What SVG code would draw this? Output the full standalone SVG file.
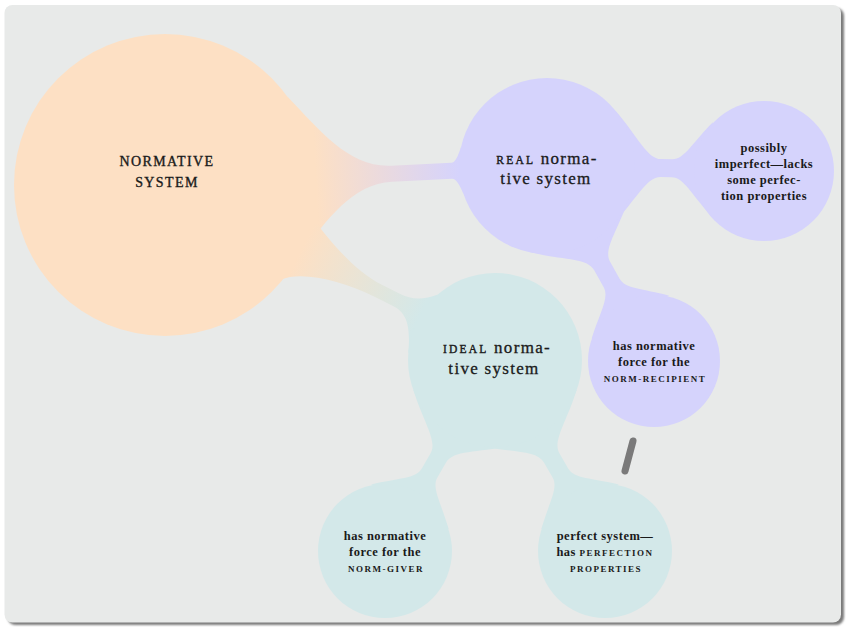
<svg xmlns="http://www.w3.org/2000/svg" width="846" height="628" viewBox="0 0 846 628">
<defs>
<style>
.peach{fill:#fde0c4}
.lav{fill:#d5d3fc}
.teal{fill:#d3e8e9}
text{font-family:"Liberation Serif","Times New Roman",serif;fill:#1a1a1a;text-anchor:middle}
.t0{font-size:14px;letter-spacing:1.4px;stroke:#1a1a1a;stroke-width:0.35px}
.t1{font-size:17px;letter-spacing:1.3px;stroke:#1a1a1a;stroke-width:0.3px}
.sc1{font-size:11.5px;letter-spacing:2.2px;stroke-width:0.4px}
.t2{font-size:12.5px;font-weight:bold;letter-spacing:0.5px}
.sc2{font-size:9px;letter-spacing:1.5px}
</style>
<filter id="blur" x="-5%" y="-5%" width="110%" height="110%"><feGaussianBlur stdDeviation="1.2"/></filter>
<linearGradient id="gA" gradientUnits="userSpaceOnUse" x1="151" y1="0" x2="294" y2="0">
<stop offset="0" stop-color="#fde0c4"/><stop offset="1" stop-color="#d5d3fc"/>
</linearGradient>
<linearGradient id="gB" gradientUnits="userSpaceOnUse" x1="151" y1="0" x2="286" y2="0">
<stop offset="0" stop-color="#fde0c4"/><stop offset="1" stop-color="#d3e8e9"/>
</linearGradient>
<path id="bar2r" d="M67.4,-56.6 C90.6,-31.1 99.7,-9 114,-9 L133.6,-9 C145.7,-9 153.4,-24.3 172.6,-44.2 L172.6,44.2 C153.4,24.3 145.7,9 133.6,9 L114,9 C99.7,9 90.6,31.1 67.4,56.6 Z"/>
<path id="bar2i" d="M66.6,-55.9 C89.6,-30.7 98.7,-9 113,-9 L130.5,-9 C142.6,-9 150.3,-24.6 169.7,-44.8 L169.7,44.8 C150.3,24.6 142.6,9 130.5,9 L113,9 C98.7,9 89.6,30.7 66.6,55.9 Z"/>
</defs>

<rect x="7.5" y="8" width="836.5" height="617" rx="8" fill="#7a7a7a" filter="url(#blur)"/>
<rect x="4.5" y="5" width="836.5" height="617.5" rx="8" fill="#e8eae9"/>

<g id="connectors">
<path transform="translate(165,185) rotate(-2.85)" fill="url(#gA)" d="M126.6,-82.2 C158.6,-45.2 185.2,-8 227,-8 L287,-8 C290.9,-8 293.7,-13.3 297.9,-24.3 L297.9,24.3 C293.7,13.3 290.9,8 287,8 L227,8 C185.2,8 158.6,45.2 126.6,82.2 Z"/>
<path transform="translate(165,185) rotate(26.5)" fill="url(#gB)" d="M145.5,-37 C163,-28 205,-7.5 238,-7.5 L258,-7.5 C272,-7.5 282,-12 293,-23.8 L293,42.6 C282,14 272,6.5 258,6.5 L238,6.5 C200,6.5 160,16 146,33 Z"/>
<path transform="translate(547,166) rotate(1.06)" class="lav" d="M67.4,-56.6 C90.6,-31.1 99.7,-9 114,-9 L125,-9 C137.1,-9 144.8,-25.7 165,-46.8 L165,46.8 C144.8,25.7 137.1,9 125,9 L114,9 C99.7,9 90.6,31.1 67.4,56.6 Z"/>
<use href="#bar2r" transform="translate(547,166) rotate(61.1)" class="lav"/>
<use href="#bar2i" transform="translate(495,360) rotate(120.07)" class="teal"/>
<use href="#bar2i" transform="translate(495,360) rotate(59.93)" class="teal"/>
</g>

<g id="normative-system">
<circle cx="165" cy="185" r="151" class="peach"/>
<text class="t0" x="167" y="166">NORMATIVE</text>
<text class="t0" x="167" y="187">SYSTEM</text>
</g>

<g id="real-normative-system">
<circle cx="547" cy="166" r="88" class="lav"/>
<text class="t1" x="547" y="164"><tspan class="sc1">REAL</tspan> norma-</text>
<text class="t1" x="546" y="184">tive system</text>
</g>

<g id="possibly-imperfect">
<circle cx="764" cy="171" r="70" class="lav"/>
<text class="t2" x="764" y="152">possibly</text>
<text class="t2" x="764" y="168">imperfect—lacks</text>
<text class="t2" x="764" y="184">some perfec-</text>
<text class="t2" x="764" y="200">tion properties</text>
</g>

<g id="norm-recipient">
<circle cx="654" cy="361" r="66" class="lav"/>
<text class="t2" x="654" y="350">has normative</text>
<text class="t2" x="654" y="366">force for the</text>
<text class="t2 sc2" x="655" y="382">NORM-RECIPIENT</text>
</g>

<g id="ideal-normative-system">
<circle cx="495" cy="360" r="87" class="teal"/>
<text class="t1" x="497" y="353"><tspan class="sc1">IDEAL</tspan> norma-</text>
<text class="t1" x="494" y="374">tive system</text>
</g>

<g id="norm-giver">
<circle cx="385" cy="551" r="67" class="teal"/>
<text class="t2" x="385" y="540">has normative</text>
<text class="t2" x="385" y="556">force for the</text>
<text class="t2 sc2" x="386" y="572">NORM-GIVER</text>
</g>

<g id="perfect-system">
<circle cx="605" cy="551" r="67" class="teal"/>
<text class="t2" x="605" y="540">perfect system—</text>
<text class="t2" x="605" y="556">has <tspan class="sc2">PERFECTION</tspan></text>
<text class="t2 sc2" x="606" y="572">PROPERTIES</text>
</g>

<g id="mark">
<line x1="633" y1="441" x2="625" y2="471" stroke="#7a7a7a" stroke-width="7" stroke-linecap="round"/>
</g>
</svg>
